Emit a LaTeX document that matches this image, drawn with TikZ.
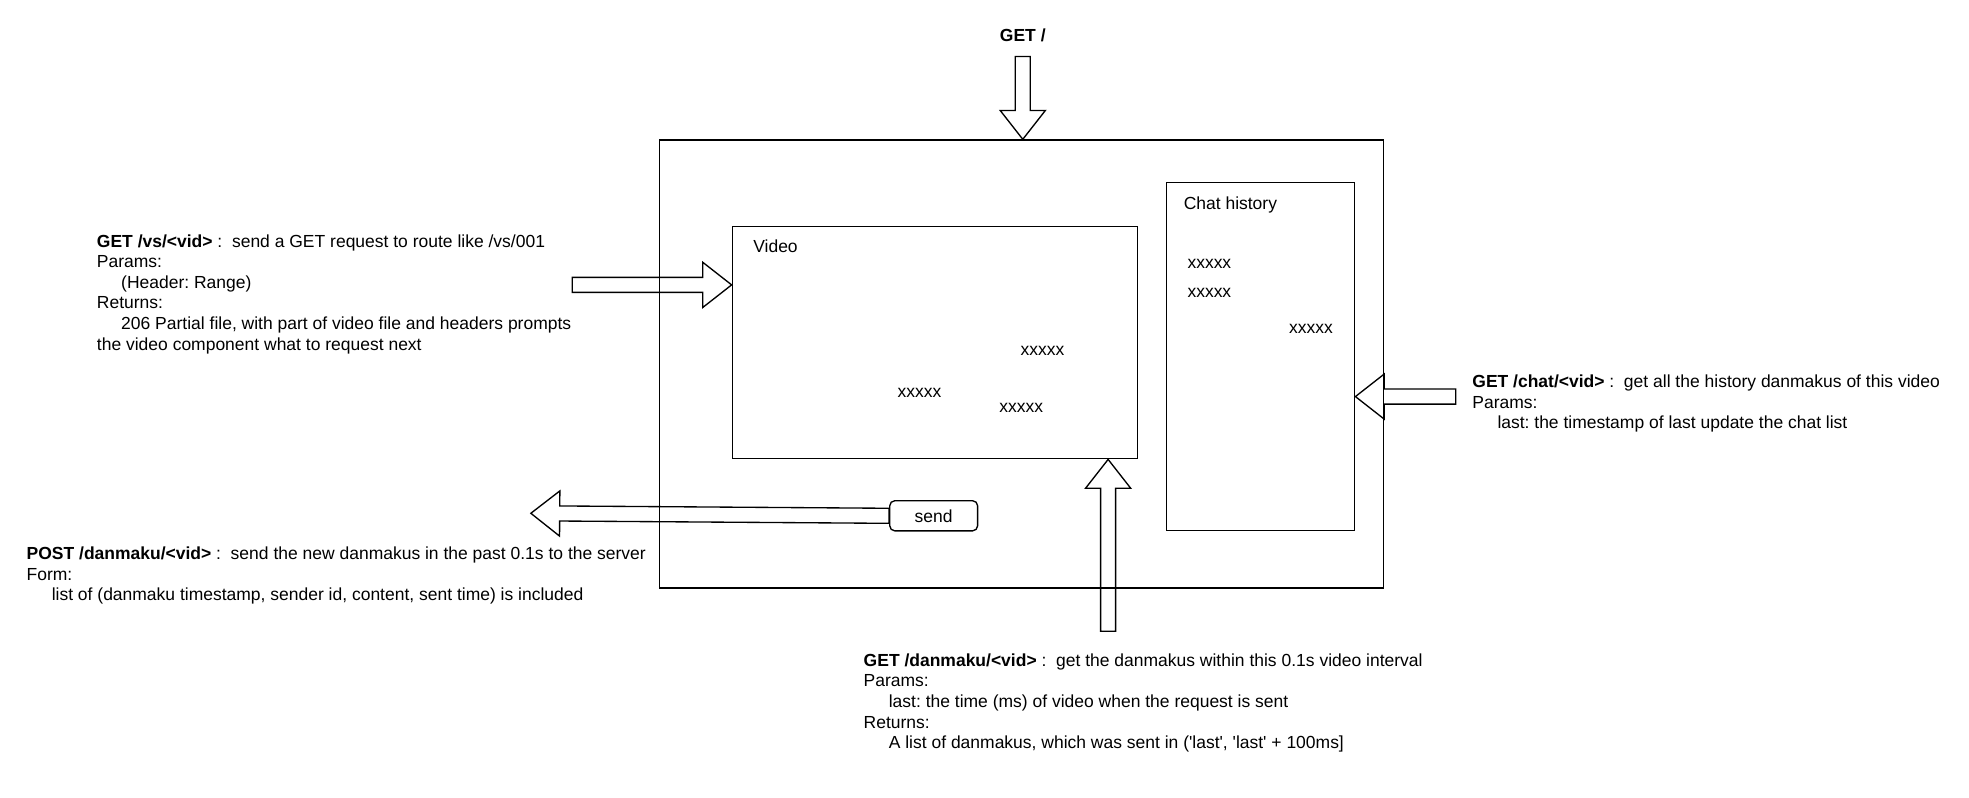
\documentclass[tikz,border=0pt]{standalone}
\usepackage{fontspec}
\setmainfont{Liberation Sans}
\usetikzlibrary{calc}
\frenchspacing
\tikzset{
  box/.style={draw, line width=0.8pt, inner sep=0pt, anchor=north west},
  txt/.style={inner sep=0pt, anchor=base west, align=left, font=\fontsize{10.45}{12.3}\selectfont},
  lbl/.style={inner sep=0pt, anchor=base west, font=\fontsize{10.45}{12.3}\selectfont},
  barrow/.style={draw, line width=0.8pt, line join=miter},
  blockarrow/.style={to path={
    ($(\tikztostart)!4.5pt!90:(\tikztotarget)$) --
    ($($(\tikztotarget)!17.25pt!(\tikztostart)$)!4.5pt!90:(\tikztotarget)$) --
    ($($(\tikztotarget)!17.25pt!(\tikztostart)$)!13.5pt!90:(\tikztotarget)$) --
    (\tikztotarget) --
    ($($(\tikztotarget)!17.25pt!(\tikztostart)$)!13.5pt!-90:(\tikztotarget)$) --
    ($($(\tikztotarget)!17.25pt!(\tikztostart)$)!4.5pt!-90:(\tikztotarget)$) --
    ($(\tikztostart)!4.5pt!-90:(\tikztotarget)$) -- cycle}}
}
\begin{document}
\begin{tikzpicture}[x=0.75pt, y=-0.75pt]
\useasboundingbox (0,0) rectangle (1569,635.1);

% boxes
\node[box, minimum width=432.75pt, minimum height=267.75pt] (outer) at (525,111) {};
\node[box, minimum width=242.25pt, minimum height=138.75pt] (video) at (583,180) {};
\node[box, minimum width=112.5pt, minimum height=207.75pt] (chat) at (929,145) {};
\node[draw, line width=0.8pt, rounded corners=3pt, minimum width=52.5pt, minimum height=18pt, inner sep=0pt, font=\fontsize{10.45}{12.3}\selectfont] (send) at (744,411) {send};

\node[lbl] (videolbl) at (600,201) {Video};
\node[lbl] (chatlbl) at (943,167) {Chat history};

\node[lbl] (c1) at (946,214) {xxxxx};
\node[lbl] (c2) at (946,237) {xxxxx};
\node[lbl] (c3) at (1027,266) {xxxxx};
\node[lbl] (v1) at (813,283) {xxxxx};
\node[lbl] (v2) at (715,317) {xxxxx};
\node[lbl] (v3) at (796,329) {xxxxx};

% descriptions (anchored at the baseline of the last line)
\node[inner sep=0pt, anchor=base, font=\fontsize{10.45}{12.3}\selectfont\bfseries] (getroot) at (815,33) {GET /};

\node[txt] (vsdesc) at (77,279) {\textbf{GET /vs/<vid>} :\ \ send a GET request to route like /vs/001\\
Params:\\
\hspace*{14.5pt}(Header: Range)\\
Returns:\\
\hspace*{14.5pt}206 Partial file, with part of video file and headers prompts\\
the video component what to request next};

\node[txt] (postdesc) at (21,478.8) {\textbf{POST /danmaku/<vid>} :\ \ send the new danmakus in the past 0.1s to the server\\
Form:\\
\hspace*{15pt}list of (danmaku timestamp, sender id, content, sent time) is included};

\node[txt] (chatdesc) at (1173,341.8) {\textbf{GET /chat/<vid>} :\ \ get all the history danmakus of this video\\
Params:\\
\hspace*{15pt}last: the timestamp of last update the chat list};

\node[txt] (dmdesc) at (688,596.6) {\textbf{GET /danmaku/<vid>} :\ \ get the danmakus within this 0.1s video interval\\
Params:\\
\hspace*{15pt}last: the time (ms) of video when the request is sent\\
Returns:\\
\hspace*{15pt}A list of danmakus, which was sent in (\textquotesingle last\textquotesingle, \textquotesingle last\textquotesingle\ + 100ms]};

% arrow end points
\coordinate (rootfrom) at (815,45);
\coordinate (roottip) at (rootfrom |- outer.north);
\coordinate (vsfrom) at (456,227);
\coordinate (vstip) at (vsfrom -| video.west);
\coordinate (chatfrom) at (1160,316);
\coordinate (chattip) at (chatfrom -| chat.east);
\coordinate (dmfrom) at (883,503);
\coordinate (dmtip) at (dmfrom |- video.south);
\coordinate (posttip) at (423,409);

% block arrows
\draw[barrow] (rootfrom) to[blockarrow] (roottip);
\draw[barrow] (vsfrom) to[blockarrow] (vstip);
\draw[barrow] (chatfrom) to[blockarrow] (chattip);
\draw[barrow] (dmfrom) to[blockarrow] (dmtip);
\draw[barrow] (send.west) to[blockarrow] (posttip);
\end{tikzpicture}
\end{document}
